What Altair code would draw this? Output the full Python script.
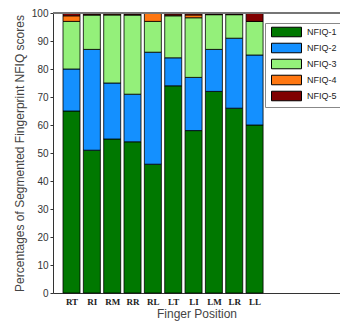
import altair as alt
import pandas as pd

fingers = ["RT", "RI", "RM", "RR", "RL", "LT", "LI", "LM", "LR", "LL"]
levels = ["NFIQ-1", "NFIQ-2", "NFIQ-3", "NFIQ-4", "NFIQ-5"]
nfiq1 = [65, 51, 55, 54, 46, 74, 58, 72, 66, 60]
nfiq2 = [15, 36, 20, 17, 40, 10, 19, 15, 25, 25]
nfiq3 = [17, 12.3, 24.3, 28.3, 11, 15, 21.3, 12.4, 8.4, 12]
nfiq4 = [2, 0.1, 0.3, 0.1, 3, 0.3, 1.0, 0.1, 0.1, 0]
nfiq5 = [1, 0.6, 0.4, 0.6, 0, 0.7, 0.7, 0.5, 0.5, 3]
colors = ["#007800", "#1490ff", "#94f07a", "#ff7711", "#800000"]

series = [nfiq1, nfiq2, nfiq3, nfiq4, nfiq5]
rows = []
for i, f in enumerate(fingers):
    for j, lv in enumerate(levels):
        rows.append({"pos": i + 1, "finger": f, "level": lv, "ord": j, "value": series[j][i]})
df = pd.DataFrame(rows)

x_lo, x_hi = 0.09, 14.2
label_expr = "[" + ",".join(f"'{f}'" for f in fingers) + "][datum.value - 1]"

bars = alt.Chart(df).mark_bar(size=17, stroke="black", strokeWidth=0.8).encode(
    x=alt.X(
        "pos:Q",
        scale=alt.Scale(domain=[x_lo, x_hi], nice=False, zero=False, padding=0),
        axis=alt.Axis(
            values=list(range(1, 11)), tickCount=30, labelExpr=label_expr, ticks=False, grid=False,
            title="Finger Position", labelFont="Liberation Serif", labelFontWeight="bold",
            labelFontSize=9, labelColor="#222", labelPadding=4, labelAngle=0,
            labelOverlap=False, titleFontSize=12, titleFontWeight="normal",
            titleColor="#444", titlePadding=2, domainColor="#333",
        ),
    ),
    y=alt.Y(
        "value:Q", stack="zero",
        scale=alt.Scale(domain=[0, 100], nice=False, padding=0),
        axis=alt.Axis(
            values=list(range(0, 101, 10)), tickCount=30, labelOverlap=False, grid=False,
            title="Percentages of Segmented Fingerprint NFIQ scores",
            labelFontSize=10, labelColor="#333", tickSize=3, tickColor="#333",
            labelPadding=2, titlePadding=5, titleFontSize=12, titleFontWeight="normal",
            titleColor="#444", domainColor="#333",
        ),
    ),
    color=alt.Color(
        "level:N",
        scale=alt.Scale(domain=levels, range=colors),
        legend=alt.Legend(
            title=None, orient="none", legendX=212, legendY=10,
            symbolType="M-3.33,-1.06H3.33V1.06H-3.33Z", symbolSize=81,
            symbolStrokeColor="black", symbolStrokeWidth=1, symbolOpacity=1,
            symbolOffset=12.5, labelOffset=15.5, labelFontSize=9, labelColor="#222",
            rowPadding=2, padding=4, strokeColor="#888", fillColor="white",
        ),
    ),
    order=alt.Order("ord:Q", sort="ascending"),
)

frame = alt.Chart(df).mark_rule(color="#777", strokeWidth=1).encode(
    y=alt.datum(100), x=alt.datum(x_lo), x2=alt.datum(x_hi)
)

chart = alt.layer(bars, frame).properties(
    width=287, height=280,
    autosize=alt.AutoSizeParams(type="none"),
    padding={"left": 45, "top": 5, "right": 0, "bottom": 28},
).configure(font="Liberation Sans").configure_view(stroke="transparent")

chart.save("out.html", embed_options={"renderer": "svg", "actions": False})
